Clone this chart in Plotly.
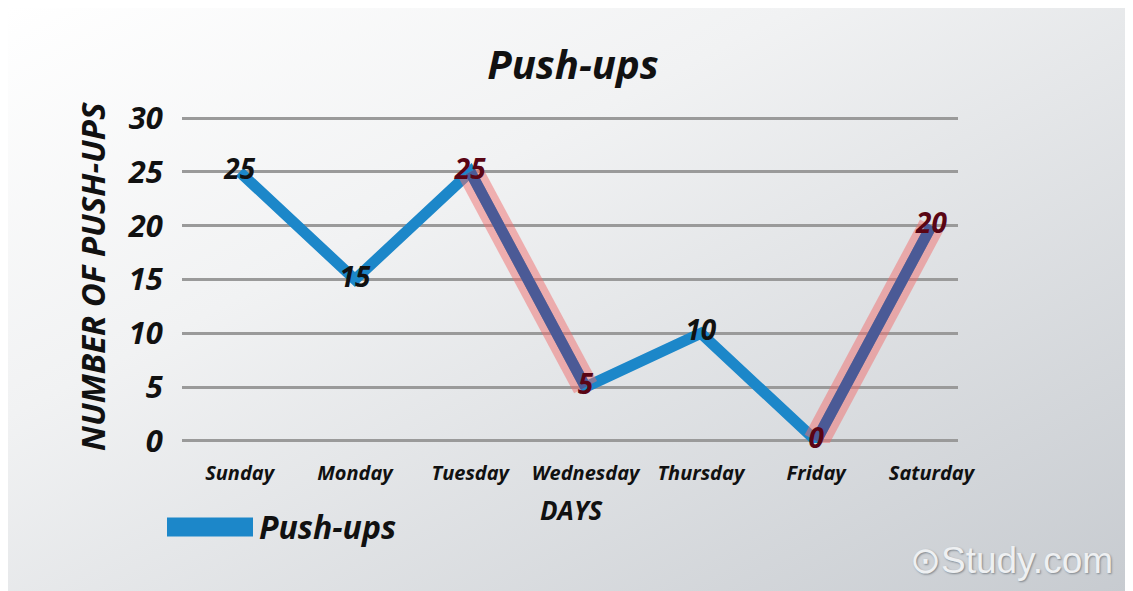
import plotly.graph_objects as go
import urllib.parse

days = ["Sunday", "Monday", "Tuesday", "Wednesday", "Thursday", "Friday", "Saturday"]
pushups = [25, 15, 25, 5, 10, 0, 20]
y_ticks = [0, 5, 10, 15, 20, 25, 30]
highlight_segments = [(2, 3), (5, 6)]
highlight_points = {2, 3, 5, 6}

# the page body has an 8px margin, so the figure is drawn 8px smaller
OFF = 8
W, H = 1133 - OFF, 591 - OFF
L = 182 - OFF
T = 116 - OFF
R = W - (958 - OFF)
B = H - (443 - OFF)
pw, ph = W - L - R, H - T - B

FONT = "Open Sans"
BLUE = "#1c87c9"
INNER = "#4b5a96"
PINK = "rgba(240,110,110,0.5)"
MAROON = "#5a0514"

fig = go.Figure()

fig.add_trace(go.Scatter(x=days, y=pushups, mode="lines",
                         line=dict(color=BLUE, width=11), cliponaxis=False,
                         showlegend=False, hoverinfo="skip"))

hx, hy = [], []
for a, b in highlight_segments:
    hx += [days[a], days[b], None]
    hy += [pushups[a], pushups[b], None]

fig.add_trace(go.Scatter(x=hx, y=hy, mode="lines", connectgaps=False,
                         line=dict(color=PINK, width=26), cliponaxis=False,
                         showlegend=False, hoverinfo="skip"))
fig.add_trace(go.Scatter(x=hx, y=hy, mode="lines", connectgaps=False,
                         line=dict(color=INNER, width=11), cliponaxis=False,
                         showlegend=False, hoverinfo="skip"))

text_colors = [MAROON if i in highlight_points else "#111111" for i in range(len(days))]
fig.add_trace(go.Scatter(x=days, y=pushups, mode="text",
                         text=[str(v) for v in pushups], textposition="middle center",
                         textfont=dict(family=FONT, size=28, color=text_colors, weight="bold", style="italic"),
                         cliponaxis=False, showlegend=False, hoverinfo="skip"))

svg = ('<svg xmlns="http://www.w3.org/2000/svg" width="1133" height="591">'
       '<defs><linearGradient id="g" x1="0" y1="0" x2="1" y2="1">'
       '<stop offset="0" stop-color="#ffffff"/>'
       '<stop offset="0.35" stop-color="#f1f2f3"/>'
       '<stop offset="1" stop-color="#c7cbd0"/>'
       '</linearGradient></defs>'
       '<rect width="1133" height="591" fill="url(#g)"/></svg>')
src = "data:image/svg+xml;charset=utf-8," + urllib.parse.quote(svg)

fig.add_layout_image(dict(source=src, xref="paper", yref="paper",
                          x=-L / pw, y=1 + T / ph, sizex=W / pw, sizey=H / ph,
                          xanchor="left", yanchor="top", sizing="stretch", layer="below"))


def px_x(p):  # reference page pixel -> paper
    return (p - OFF - L) / pw


def px_y(p):
    return (H - B - (p - OFF)) / ph


fig.add_shape(type="line", xref="paper", yref="paper",
              x0=px_x(167), x1=px_x(253), y0=px_y(527), y1=px_y(527),
              line=dict(color=BLUE, width=19))
fig.add_annotation(text="Push-ups", xref="paper", yref="paper", x=px_x(257), y=px_y(526),
                   xanchor="left", yanchor="middle", showarrow=False,
                   font=dict(family=FONT, size=32, color="#111111", weight="bold", style="italic"))

fig.add_annotation(text="NUMBER OF PUSH-UPS", xref="paper", yref="paper", x=px_x(92), y=px_y(277),
                   textangle=-90, showarrow=False, xanchor="center", yanchor="middle",
                   font=dict(family=FONT, size=33, color="#111111", weight="bold", style="italic"))
fig.add_annotation(text="DAYS", xref="paper", yref="paper", x=px_x(572), y=px_y(510),
                   showarrow=False, xanchor="center", yanchor="middle",
                   font=dict(family=FONT, size=26, color="#111111", weight="bold", style="italic"))

fig.add_annotation(text="⊙Study.com", xref="paper", yref="paper", x=px_x(1115), y=px_y(560),
                   showarrow=False, xanchor="right", yanchor="middle",
                   font=dict(family="Liberation Sans", size=37, color="#eef0f2",
                             shadow="1px 1px 2px #7f868d"))

fig.update_layout(
    width=W, height=H,
    margin=dict(l=L, r=R, t=T, b=B),
    paper_bgcolor="#ffffff", plot_bgcolor="rgba(0,0,0,0)",
    title=dict(text="Push-ups", x=(573 - OFF) / W, xanchor="center", y=1 - (65 - OFF) / H, yanchor="middle",
               font=dict(family=FONT, size=40, color="#111111", weight="bold", style="italic")),
    showlegend=False,
    xaxis=dict(type="category", categoryorder="array", categoryarray=days,
               range=[-0.5, 6.23], showgrid=False, zeroline=False, showline=False,
               ticks="outside", ticklen=12, tickcolor="rgba(0,0,0,0)",
               tickfont=dict(family=FONT, size=20, color="#111111", weight="bold", style="italic")),
    yaxis=dict(range=[-0.2, 30.2], tickvals=y_ticks, showgrid=True, gridcolor="#9a9a9a", gridwidth=3,
               zeroline=False, showline=False,
               ticks="outside", ticklen=12, tickcolor="rgba(0,0,0,0)",
               tickfont=dict(family=FONT, size=31, color="#111111", weight="bold", style="italic")),
)

fig.write_html("out.html")
